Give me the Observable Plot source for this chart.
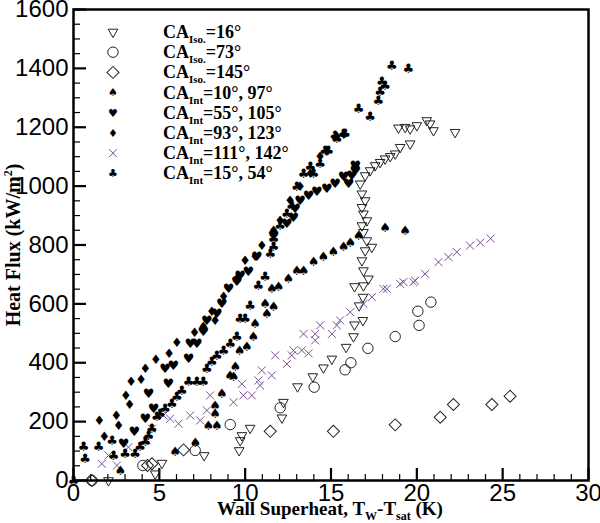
<!DOCTYPE html>
<html><head><meta charset="utf-8">
<script src="https://cdn.jsdelivr.net/npm/d3@7"></script>
<script src="https://cdn.jsdelivr.net/npm/@observablehq/plot@0.6"></script>
<style>body{margin:0;background:#fff} #chart{width:600px;height:523px}</style>
</head><body><div id="chart"></div>
<script>
// ---- data: [wall superheat (K), heat flux (kW/m2)] ----
const iso16 = [[2.04,0],[4.76,23],[5.15,59],[7.61,85],[9.65,102],[9.71,136],[9.81,153],[10.29,178],[12.14,213],[12.23,266],[13.05,319],[13.94,353],[14.56,383],[15.05,413],[15.88,453],[16.31,489],[16.37,529],[16.86,544],[16.64,594],[16.86,623],[16.37,659],[16.89,662],[17.18,685],[16.89,713],[16.8,747],[16.99,781],[17.38,793],[17.09,815],[16.89,843],[16.8,866],[17.09,883],[16.89,906],[16.8,928],[16.99,951],[16.8,974],[16.7,1008],[16.99,1036],[17.28,1053],[17.57,1070],[17.86,1081],[18.15,1093],[18.45,1101],[18.74,1110],[19.03,1132],[19.61,1144],[18.93,1198],[19.32,1200],[19.61,1195],[20.0,1206],[20.58,1223],[20.77,1212],[20.97,1189],[22.23,1183]];
const iso73 = [[1.07,0],[4.04,51],[7.09,102],[9.13,190],[12.04,247],[14.02,317],[15.82,376],[16.16,400],[17.15,449],[18.74,489],[20.06,575],[20.13,527],[20.82,606]];
const iso145 = [[1.07,0],[4.31,51],[4.57,57],[6.41,104],[11.46,167],[15.14,167],[18.74,189],[21.36,215],[22.13,258],[24.37,258],[25.43,286]];
const int10_97 = [[2.73,32],[5.92,96],[7.09,127],[7.86,187],[8.35,187],[8.25,227],[8.25,255],[8.64,295],[9.12,357],[9.32,351],[9.42,385],[9.67,442],[10.1,453],[10.48,487],[10.58,532],[11.26,566],[11.16,600],[11.65,589],[11.55,651],[11.94,657],[12.52,685],[13.01,713],[13.4,713],[13.98,742],[14.56,759],[15.14,776],[15.73,793],[16.12,809],[16.6,832],[18.15,860],[19.31,849]];
const int55_105 = [[2.91,125],[3.54,167],[4.18,210],[4.66,244],[4.37,295],[5.34,379],[5.53,328],[5.82,391],[6.7,413],[6.8,464],[7.19,464],[7.57,504],[7.77,544],[8.35,566],[8.64,600],[9.03,651],[9.52,674],[9.71,696],[10.19,708],[10.68,759],[11.65,832],[12.43,872],[12.81,894],[12.91,923],[13.2,951],[13.69,968],[14.18,979],[14.76,991],[15.24,1008],[15.73,1030],[16.02,1008],[16.21,1036],[16.41,1070],[16.41,1053]];
const int93_123 = [[1.51,204],[1.79,149],[2.49,221],[2.62,187],[3.05,289],[3.26,257],[3.36,334],[3.93,342],[4.18,379],[4.8,410],[5.57,432],[6.02,468],[7.05,500],[7.57,521],[8.06,572],[8.25,544],[8.74,623],[9.52,685],[10.0,747],[10.58,759],[10.97,798],[11.65,849],[12.04,883],[12.62,951],[13.2,996],[13.79,1042],[14.37,1098],[14.76,1115],[15.34,1166],[15.73,1175]];
const int111_142 = [[1.65,57],[2.04,85],[2.53,51],[3.2,113],[4.27,136],[4.57,176],[5.24,221],[5.63,210],[6.12,193],[6.8,221],[7.38,204],[7.77,238],[7.96,289],[9.32,266],[9.81,328],[9.9,289],[10.39,289],[10.77,340],[10.87,323],[10.97,374],[11.55,357],[11.75,425],[12.43,396],[12.72,425],[12.81,442],[13.3,442],[13.69,432],[13.4,498],[14.08,476],[14.08,498],[14.37,527],[15.05,498],[15.34,527],[15.53,544],[16.12,572],[16.89,600],[17.38,623],[18.05,651],[18.25,651],[19.03,668],[19.22,674],[19.8,674],[19.9,679],[20.48,702],[21.26,742],[21.84,759],[22.33,776],[23.1,798],[23.7,808],[24.3,822]];
const int15_54 = [[0,0],[0.58,113],[0.68,74],[1.46,113],[2.24,136],[2.33,85],[3.01,91],[3.59,91],[3.88,113],[4.18,130],[4.37,153],[4.57,176],[4.86,215],[5.05,227],[5.34,244],[5.73,261],[6.02,283],[6.31,306],[6.7,334],[7.19,334],[7.57,334],[7.77,379],[8.06,402],[8.35,425],[8.74,442],[9.13,464],[9.52,487],[9.71,549],[10.0,549],[10.29,594],[10.77,662],[11.16,691],[11.46,770],[11.65,793],[11.65,821],[12.04,866],[12.43,906],[12.72,934],[13.01,996],[13.4,1042],[13.79,1064],[13.98,1042],[14.37,1076],[14.66,1121],[14.85,1121],[15.34,1161],[15.73,1178],[15.82,1178],[15.24,1172],[16.6,1263],[17.28,1234],[17.76,1291],[17.86,1319],[18.15,1342],[17.96,1353],[18.54,1410],[19.51,1399]];

// ---- axes ----
const xMajor = [0,5,10,15,20,25,30];
const xMinor = d3.range(0,31,1).filter(v => v % 5 !== 0);
const yMajor = [0,200,400,600,800,1000,1200,1400,1600];
const yMinor = d3.range(0,1601,50).filter(v => v % 200 !== 0);

// ---- legend ----
const legendSub = ["Iso.","Iso.","Iso.","Int","Int","Int","Int","Int"];
const legendVal = ["=16°","=73°","=145°","=10°, 97°","=55°, 105°","=93°, 123°","=111°, 142°","=15°, 54°"];

const W = 600, H = 523, mL = 73, mR = 12, mT = 9, mB = 43;
const innerW = W - mL - mR, innerH = H - mT - mB;

const toRows = a => a.map(([x,y]) => ({x, y}));
const suitFont = "'DejaVu Sans', sans-serif";
const crossColor = "#7a4f96";

const plot = Plot.plot({
  width: W, height: H,
  marginLeft: mL, marginRight: mR, marginTop: mT, marginBottom: mB,
  x: {domain: [0, 30], label: null},
  y: {domain: [0, 1600], label: null},
  style: {fontFamily: "'Liberation Sans', Arial, sans-serif", background: "white", color: "black"},
  marks: [
    Plot.tickX(xMinor, {x: d => d, stroke: "black", strokeWidth: 1.2, insetTop: innerH - 6}),
    Plot.tickX(xMajor, {x: d => d, stroke: "black", strokeWidth: 2.2, insetTop: innerH - 12}),
    Plot.tickY(yMinor, {y: d => d, stroke: "black", strokeWidth: 1.2, insetRight: innerW - 7}),
    Plot.tickY(yMajor, {y: d => d, stroke: "black", strokeWidth: 2.2, insetRight: innerW - 13}),
    Plot.axisX(xMajor, {tickSize: 0, tickPadding: 3, fontSize: 24, label: null, tickFormat: d => String(d)}),
    Plot.axisY(yMajor, {tickSize: 0, tickPadding: 5, fontSize: 24, label: null, tickFormat: d => String(d)}),
    Plot.dot(toRows(iso145), {x: "x", y: "y", symbol: "square", rotate: 45, r: 4.8, stroke: "#222", strokeWidth: 1, fill: "none"}),
    Plot.dot(toRows(iso73), {x: "x", y: "y", symbol: "circle", r: 5.2, stroke: "#222", strokeWidth: 1, fill: "none"}),
    Plot.dot(toRows(iso16), {x: "x", y: "y", symbol: "triangle", rotate: 180, r: 3.6, stroke: "#222", strokeWidth: 1, fill: "none"}),
    Plot.dot(toRows(int111_142), {x: "x", y: "y", symbol: "times", r: 3.7, stroke: crossColor, strokeWidth: 1}),
    Plot.text(toRows(int10_97), {x: "x", y: "y", text: () => "♠", fontSize: 13, fontFamily: suitFont, fill: "black"}),
    Plot.text(toRows(int55_105), {x: "x", y: "y", text: () => "♥", fontSize: 13, fontFamily: suitFont, fill: "black"}),
    Plot.text(toRows(int93_123), {x: "x", y: "y", text: () => "♦", fontSize: 13, fontFamily: suitFont, fill: "black"}),
    Plot.text(toRows(int15_54), {x: "x", y: "y", text: () => "♣", fontSize: 13, fontFamily: suitFont, fill: "black"}),
    Plot.frame({strokeWidth: 2.5, stroke: "black"})
  ]
});
document.getElementById("chart").appendChild(plot);

const svg = d3.select(plot);
const serif = "'Liberation Serif', 'Times New Roman', serif";

// axis titles
const xt = svg.append("text").attr("x", 330).attr("y", 515).attr("text-anchor", "middle")
  .attr("font-family", serif).attr("font-weight", "bold").attr("font-size", 19).attr("fill", "black");
xt.append("tspan").text("Wall Superheat, T");
xt.append("tspan").attr("font-size", 12).attr("dy", 5).text("W");
xt.append("tspan").attr("dy", -5).text("-T");
xt.append("tspan").attr("font-size", 12).attr("dy", 5).text("sat");
xt.append("tspan").attr("dy", -5).text(" (K)");

const yt = svg.append("text").attr("transform", "translate(20,245) rotate(-90)").attr("text-anchor", "middle")
  .attr("font-family", serif).attr("font-weight", "bold").attr("font-size", 20).attr("fill", "black");
yt.append("tspan").text("Heat Flux (kW/m");
yt.append("tspan").attr("font-size", 12).attr("dy", -8).text("2");
yt.append("tspan").attr("dy", 8).text(")");

// legend
const lg = svg.append("g").attr("text-anchor", "start");
const symX = 113, textX = 163, row0 = 32, rowH = 20.2;
const symPaths = [
  {sym: d3.symbolTriangle, size: 3.6*3.6*Math.PI, rot: 180, stroke: "#222"},
  {sym: d3.symbolCircle, size: 5.2*5.2*Math.PI, rot: 0, stroke: "#222"},
  {sym: d3.symbolSquare, size: 4.8*4.8*Math.PI, rot: 45, stroke: "#222"}
];
const suits = ["♠","♥","♦","♣"];
legendVal.forEach((v, i) => {
  const cy = row0 + i * rowH;
  if (i < 3) {
    const s = symPaths[i];
    lg.append("path").attr("d", d3.symbol(s.sym, s.size)()).attr("transform", `translate(${symX},${cy}) rotate(${s.rot})`)
      .attr("fill", "none").attr("stroke", s.stroke);
  } else if (i === 6) {
    lg.append("path").attr("d", d3.symbol(d3.symbolTimes, 3.7*3.7*Math.PI)()).attr("transform", `translate(${symX},${cy})`)
      .attr("fill", "none").attr("stroke", crossColor);
  } else {
    const k = i < 6 ? i - 3 : 3;
    lg.append("text").attr("x", symX).attr("y", cy).attr("dy", "0.35em").attr("text-anchor", "middle")
      .attr("font-family", suitFont).attr("font-size", 11).attr("fill", "black").text(suits[k]);
  }
  const t = lg.append("text").attr("x", textX).attr("y", cy + 6).attr("text-anchor", "start")
    .attr("font-family", serif).attr("font-weight", "bold").attr("font-size", 18).attr("fill", "black");
  t.append("tspan").text("CA");
  t.append("tspan").attr("font-size", 11).attr("dy", 5).text(legendSub[i]);
  t.append("tspan").attr("dy", -5).text(v);
});
</script>
</body></html>
